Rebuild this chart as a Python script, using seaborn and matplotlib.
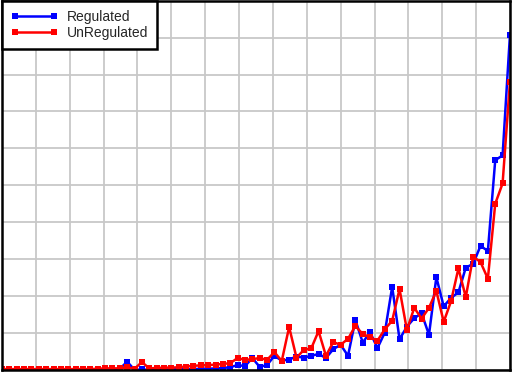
import numpy as np
import pandas as pd
import matplotlib
matplotlib.use("Agg")
import matplotlib.pyplot as plt
import seaborn as sns

regulated = [0.0] * 14 + [
    0.01, 0.01, 0.03, 0.22, 0.0, 0.01, 0.0, 0.0, 0.01, 0.01,
    0.02, 0.02, 0.02, 0.03, 0.03, 0.04, 0.05, 0.07, 0.13, 0.10,
    0.32, 0.08, 0.13, 0.38, 0.25, 0.28, 0.36, 0.33, 0.38, 0.43,
    0.32, 0.56, 0.68, 0.38, 1.35, 0.74, 1.02, 0.59, 1.01, 2.25,
    0.83, 1.17, 1.40, 1.53, 0.95, 2.51, 1.72, 1.95, 2.10, 2.77,
    2.87, 3.36, 3.22, 5.68, 5.81, 9.07]
unregulated = [0.02] * 13 + [
    0.03, 0.04, 0.04, 0.04, 0.07, 0.03, 0.21, 0.04, 0.05, 0.06,
    0.06, 0.07, 0.09, 0.11, 0.12, 0.13, 0.14, 0.16, 0.18, 0.32,
    0.27, 0.29, 0.32, 0.27, 0.48, 0.24, 1.16, 0.33, 0.54, 0.58,
    1.05, 0.38, 0.75, 0.68, 0.84, 1.19, 0.97, 0.88, 0.79, 1.10,
    1.33, 2.19, 1.08, 1.68, 1.39, 1.68, 2.14, 1.30, 1.86, 2.75,
    1.97, 3.07, 2.92, 2.47, 4.50, 5.05, 7.80]
x = np.arange(len(regulated))

df = pd.DataFrame({
    "x": np.concatenate([x, x]),
    "value": regulated + unregulated,
    "series": ["Regulated"] * len(x) + ["UnRegulated"] * len(x),
})

sns.set_style("white")
plt.rcParams["font.family"] = ["Liberation Sans", "DejaVu Sans"]

fig = plt.figure(figsize=(5.12, 3.77), dpi=100)
ax = fig.add_axes([0.004, 0.019, 0.992, 0.979])

sns.lineplot(data=df, x="x", y="value", hue="series",
             palette={"Regulated": "#0000ff", "UnRegulated": "#ff0000"},
             marker="s", markersize=4.5, markeredgewidth=0, linewidth=1.8,
             ax=ax)

ax.set_xlim(0, len(x) - 1)
ax.set_ylim(0, 10)
ax.set_xticks(np.linspace(0, len(x) - 1, 16))
ax.set_yticks(np.arange(0, 11, 1))
ax.grid(True, color="#c8c8c8", linewidth=1.3)
ax.set_axisbelow(True)
ax.tick_params(labelbottom=False, labelleft=False, length=0)
ax.set_xlabel("")
ax.set_ylabel("")
for s in ax.spines.values():
    s.set_color("black")
    s.set_linewidth(1.8)

leg = ax.legend(loc="upper left", borderaxespad=0, fontsize=10,
                frameon=True, fancybox=False, framealpha=1,
                edgecolor="black", handlelength=3.4, handletextpad=0.6,
                borderpad=0.65, labelspacing=0.15, numpoints=2)
leg.get_frame().set_linewidth(1.8)
for h in leg.legend_handles:
    h.set_marker("s")
    h.set_markersize(4.5)
    h.set_markevery(None)

fig.savefig("out.png", dpi=100)
